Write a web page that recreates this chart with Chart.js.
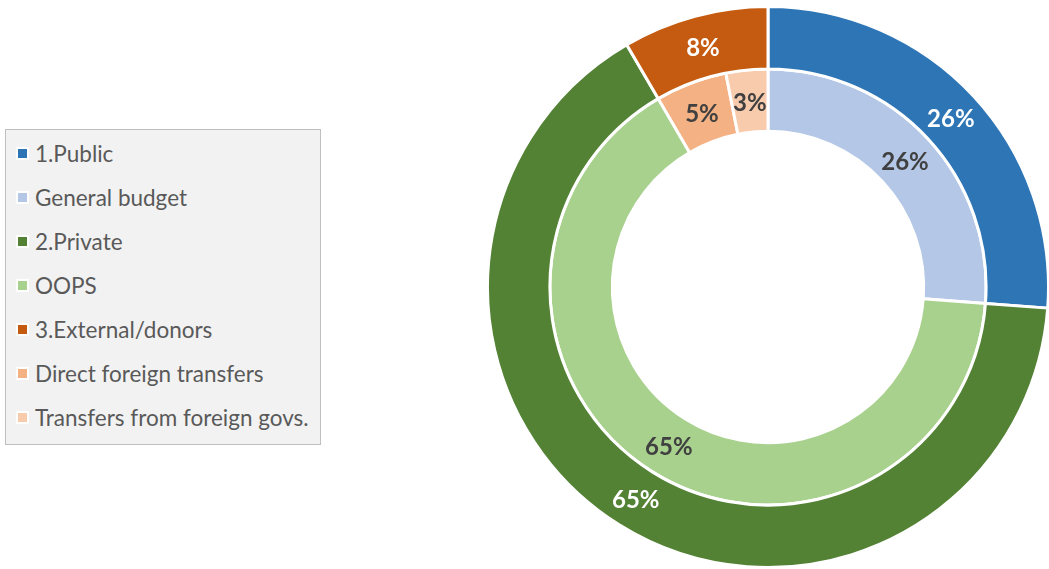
<!DOCTYPE html>
<html>
<head>
<meta charset="utf-8">
<script src="https://cdn.jsdelivr.net/npm/chart.js@4.4.1/dist/chart.umd.min.js"></script>
<style>
  html, body { margin: 0; padding: 0; background: #ffffff; overflow: hidden; width: 1049px; height: 569px; }
  #wrap { position: absolute; left: 486px; top: 5px; width: 564px; height: 564px; }
  #legend { position: absolute; left: 5px; top: 129px; width: 314px; height: 314px; background: #f2f2f2; border: 1px solid #bfbfbf; box-sizing: content-box; }
  .item { position: absolute; left: 0; height: 24px; display: flex; align-items: center; font-family: Lato, "Open Sans", sans-serif; font-size: 22.5px; color: #595959; white-space: nowrap; }
  .mk { width: 9px; height: 9px; border: 2px solid #ffffff; margin-left: 10px; margin-right: 6px; }
</style>
</head>
<body>
<div id="legend"></div>
<div id="wrap"><canvas id="c"></canvas></div>
<script>
const labels = ["1.Public", "General budget", "2.Private", "OOPS", "3.External/donors", "Direct foreign transfers", "Transfers from foreign govs."];
const colors = ["#2e75b6", "#b4c7e7", "#548235", "#a9d18e", "#c55a11", "#f4b183", "#f8cbad"];
const outerValues = [26.2, 0, 65.4, 0, 8.4, 0, 0];
const innerValues = [0, 26.2, 0, 65.4, 0, 5.3, 3.1];

// HTML legend
const lg = document.getElementById('legend');
labels.forEach((l, i) => {
  const d = document.createElement('div');
  d.className = 'item';
  d.style.top = (11 + i * 44) + 'px';
  const m = document.createElement('div');
  m.className = 'mk';
  m.style.background = colors[i];
  const t = document.createElement('span');
  t.textContent = l;
  d.appendChild(m); d.appendChild(t);
  lg.appendChild(d);
});

const labelPlugin = {
  id: 'pctLabels',
  afterDatasetsDraw(chart) {
    const ctx = chart.ctx;
    ctx.save();
    ctx.font = 'bold 24px Lato, "Open Sans", sans-serif';
    ctx.textAlign = 'center';
    ctx.textBaseline = 'middle';
    chart.data.datasets.forEach((ds, di) => {
      const meta = chart.getDatasetMeta(di);
      meta.data.forEach((arc, i) => {
        const v = ds.data[i];
        if (!v) return;
        const p = arc.tooltipPosition();
        ctx.fillStyle = di === 0 ? '#ffffff' : '#404040';
        ctx.fillText(Math.round(v) + '%', p.x, p.y + 2);
      });
    });
    ctx.restore();
  }
};

new Chart(document.getElementById('c'), {
  type: 'doughnut',
  data: {
    labels: labels,
    datasets: [
      { data: outerValues, backgroundColor: colors, borderColor: '#ffffff', borderWidth: 3 },
      { data: innerValues, backgroundColor: colors, borderColor: '#ffffff', borderWidth: 3 }
    ]
  },
  options: {
    responsive: true,
    maintainAspectRatio: false,
    animation: false,
    cutout: '55.5%',
    layout: { padding: 0 },
    plugins: { legend: { display: false }, tooltip: { enabled: false } }
  },
  plugins: [labelPlugin]
});
</script>
</body>
</html>
